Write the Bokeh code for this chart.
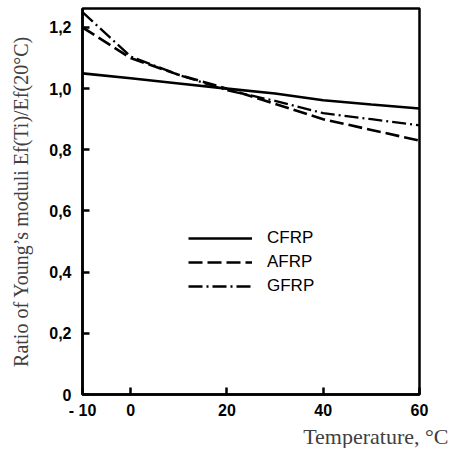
from bokeh.plotting import figure
from bokeh.models import Range1d, FixedTicker, Legend, Title
from bokeh.embed import file_html
from bokeh.resources import INLINE

# Data
temperature = [-10, 0, 10, 20, 30, 40, 50, 60]
cfrp = [1.05, 1.034, 1.017, 1.0, 0.984, 0.962, 0.948, 0.935]
afrp = [1.20, 1.10, 1.045, 1.0, 0.95, 0.90, 0.865, 0.83]
gfrp = [1.25, 1.105, 1.045, 0.995, 0.96, 0.92, 0.90, 0.88]

x_ticks = [-10, 0, 20, 40, 60]
x_tick_labels = {-10: "- 10", 0: "0", 20: "20", 40: "40", 60: "60"}
y_ticks = [0, 0.2, 0.4, 0.6, 0.8, 1.0, 1.2]
y_tick_labels = {0: "0", 0.2: "0,2", 0.4: "0,4", 0.6: "0,6", 0.8: "0,8", 1: "1,0", 1.2: "1,2"}

p = figure(width=450, height=448, output_backend="svg", toolbar_location=None,
           x_range=Range1d(-10, 60), y_range=Range1d(0, 1.262),
           min_border_left=82, min_border_right=31, min_border_top=8, min_border_bottom=50)

p.background_fill_color = "white"
p.border_fill_color = "white"
p.outline_line_color = "black"
p.outline_line_width = 2.5
p.grid.visible = False

r1 = p.line(temperature, cfrp, line_color="black", line_width=2.6)
r2 = p.line(temperature, afrp, line_color="black", line_width=2.6, line_dash="14 5")
r3 = p.line(temperature, gfrp, line_color="black", line_width=2.3, line_dash="14 4 2 4")

for ax in (p.xaxis[0], p.yaxis[0]):
    ax.axis_line_width = 2.5
    ax.axis_line_color = "black"
    ax.major_tick_in = 7
    ax.major_tick_out = 0
    ax.major_tick_line_width = 2.5
    ax.minor_tick_line_color = None
    ax.major_label_text_font = "Liberation Sans"
    ax.major_label_text_font_style = "bold"
    ax.major_label_text_font_size = "16px"
    ax.major_label_text_color = "black"

p.xaxis.ticker = FixedTicker(ticks=x_ticks)
p.xaxis.major_label_overrides = x_tick_labels
p.xaxis.major_label_standoff = 7
p.yaxis.ticker = FixedTicker(ticks=y_ticks)
p.yaxis.major_label_overrides = y_tick_labels
p.yaxis.major_label_standoff = 11

p.yaxis.axis_label = "Ratio of Young\u2019s moduli Ef(Ti)/Ef(20\u00b0C)"
p.yaxis.axis_label_text_font = "Liberation Serif"
p.yaxis.axis_label_text_font_style = "normal"
p.yaxis.axis_label_text_font_size = "20px"
p.yaxis.axis_label_text_color = "#404040"
p.yaxis.axis_label_standoff = 14

t = Title(text="Temperature, \u00b0C", align="right", offset=-29,
          text_font="Liberation Serif", text_font_size="22px",
          text_font_style="normal", text_color="#404040", standoff=0)
p.add_layout(t, "below")

legend = Legend(items=[("CFRP", [r1]), ("AFRP", [r2]), ("GFRP", [r3])],
                location=(106, 98), padding=0, margin=0, spacing=4,
                glyph_width=64, glyph_height=20, label_height=20,
                label_standoff=15, label_text_font="Liberation Sans",
                label_text_font_size="17px", label_text_color="black",
                background_fill_alpha=0, border_line_color=None)
p.add_layout(legend, "center")

open("out.html", "w").write(file_html(p, INLINE))
